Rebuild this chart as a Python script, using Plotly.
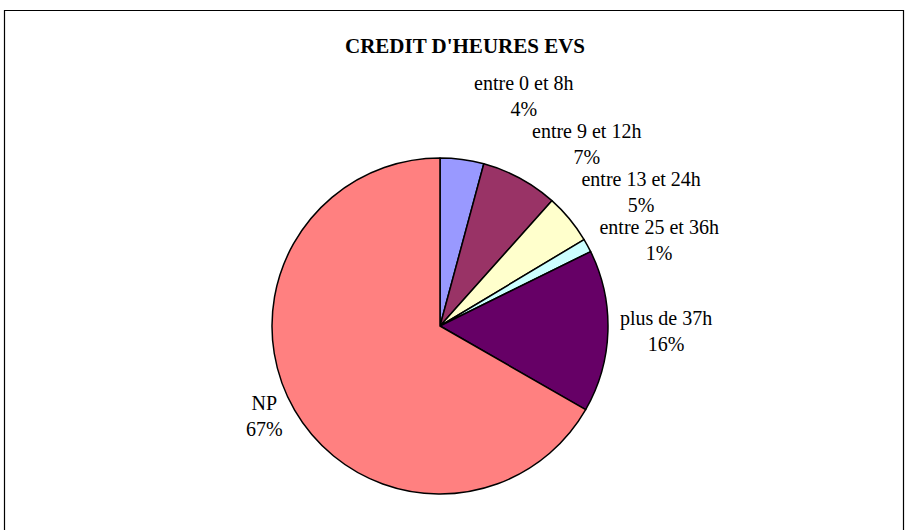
import plotly.graph_objects as go

categories = ["entre 0 et 8h", "entre 9 et 12h", "entre 13 et 24h", "entre 25 et 36h", "plus de 37h", "NP"]
values = [4.2, 7.4, 4.8, 1.3, 15.6, 66.7]
colors = ["#9999FF", "#993366", "#FFFFCC", "#CCFFFF", "#660066", "#FF8080"]
title_text = "CREDIT D'HEURES EVS"

W, H = 908, 530
cx, cy, r = 440, 326, 168
FONT = "Liberation Serif"

fig = go.Figure(go.Pie(
    labels=categories,
    values=values,
    sort=False,
    direction="clockwise",
    rotation=0,
    marker=dict(colors=colors, line=dict(color="black", width=1.5)),
    texttemplate="%{label}<br>%{percent:.0%}",
    textposition="outside",
    textfont=dict(family=FONT, size=20, color="black"),
    showlegend=False,
    hoverinfo="label+percent",
    domain=dict(x=[(cx - r) / W, (cx + r) / W], y=[(H - cy - r) / H, (H - cy + r) / H]),
))

fig.update_layout(
    width=W, height=H,
    margin=dict(l=0, r=0, t=0, b=0),
    paper_bgcolor="white",
    plot_bgcolor="white",
    title=dict(text="<b>" + title_text + "</b>", x=465 / W, xanchor="center", y=1 - 46 / H, yanchor="middle",
               font=dict(family=FONT, size=21, color="black")),
    shapes=[dict(type="rect", xref="paper", yref="paper", x0=4.5 / W, x1=903.5 / W, y0=-0.05, y1=1 - 10.5 / H,
                 line=dict(color="black", width=1.2), fillcolor="rgba(0,0,0,0)")],
)

post = ("document.body.style.margin='0';"
        "var s=document.createElement('style');"
        "s.innerHTML='.textline{display:none}';"
        "document.head.appendChild(s);")
fig.write_html("out.html", post_script=post, config={"displayModeBar": False})
